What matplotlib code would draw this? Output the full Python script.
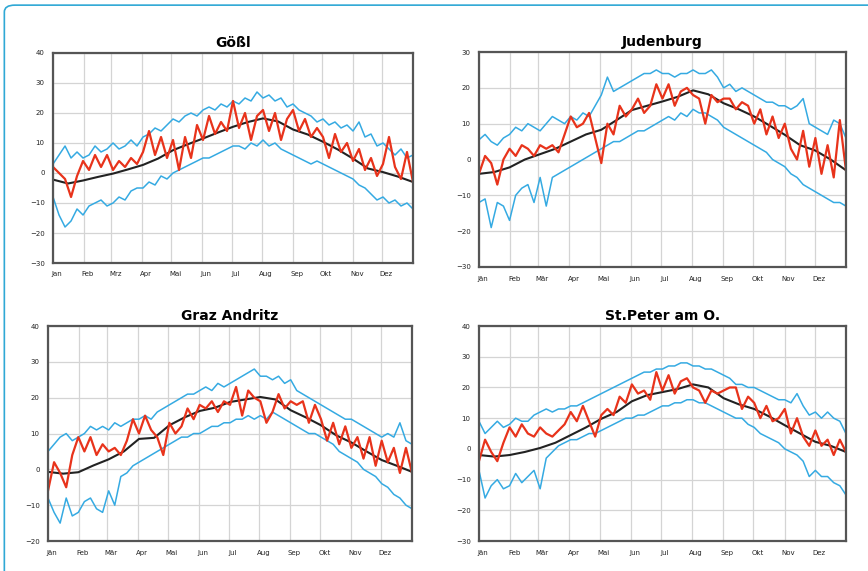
import numpy as np
import matplotlib
matplotlib.use('Agg')
import matplotlib.pyplot as plt
from matplotlib.patches import FancyBboxPatch

# daily temperature curves, one value every ~6 days
# (upper blue = max, lower blue = min, red = one year, black = long term mean)

stations = ['Gößl', 'Judenburg', 'Graz Andritz', 'St.Peter am O.']

months_1 = ['Jan', 'Feb', 'Mrz', 'Apr', 'Mai', 'Jun', 'Jul', 'Aug', 'Sep', 'Okt', 'Nov', 'Dez']
months_2 = ['Jän', 'Feb', 'Mär', 'Apr', 'Mai', 'Jun', 'Jul', 'Aug', 'Sep', 'Okt', 'Nov', 'Dez']
month_start = [0, 31, 59, 90, 120, 151, 181, 212, 243, 273, 304, 334, 365]

ylims = [(-30, 40), (-30, 30), (-20, 40), (-30, 40)]

goessl_max = [3, 6, 9, 5, 7, 5, 6, 9, 7, 8, 10, 8, 9, 11, 9, 12, 13, 15, 14, 16, 18, 17, 19, 20, 19, 21,
              22, 21, 23, 22, 24, 23, 25, 24, 27, 25, 26, 24, 25, 22, 23, 21, 20, 19, 17, 18, 16, 17, 15,
              16, 14, 17, 12, 13, 9, 10, 8, 6, 8, 5, 6]
goessl_min = [-8, -14, -18, -16, -12, -14, -11, -10, -9, -11, -10, -8, -9, -6, -5, -5, -3, -4, -1, -2, 0,
              1, 2, 3, 4, 5, 5, 6, 7, 8, 9, 9, 8, 10, 9, 11, 9, 10, 8, 7, 6, 5, 4, 3, 4, 3, 2, 1, 0, -1,
              -2, -4, -5, -7, -9, -8, -10, -9, -11, -10, -12]
goessl_year = [2, 0, -2, -8, -1, 4, 1, 6, 2, 6, 1, 4, 2, 5, 3, 7, 14, 6, 12, 5, 11, 1, 12, 5, 16, 11, 19,
               13, 17, 14, 24, 15, 20, 11, 19, 21, 14, 20, 11, 18, 21, 14, 18, 12, 15, 12, 5, 13, 7, 10,
               4, 8, 1, 5, -1, 3, 12, 2, -2, 7, -3]
goessl_mean = [-2.2, -3.5, -2.5, -1.3, -0.2, 1.2, 2.7, 4.8, 7.6, 9.6, 11.5, 13.5, 15.4, 17.0, 18.2,
               17.2, 14.5, 12.8, 10.4, 7.8, 4.8, 1.5, 0.3, -1.2, -3.0]

juden_max = [5.5, 7, 5, 4, 6, 7, 9, 8, 10, 9, 8, 10, 12, 11, 10, 12, 11, 13, 12, 15, 18, 23, 19, 20, 21,
             22, 23, 24, 24, 25, 24, 24, 23, 24, 24, 25, 24, 24, 25, 23, 20, 21, 19, 20, 19, 18, 17, 16,
             16, 15, 15, 14, 15, 17, 10, 9, 8, 7, 11, 10, 6]
juden_min = [-12, -11, -19, -12, -13, -17, -10, -8, -7, -12, -5, -13, -5, -4, -3, -2, -1, 0, 1, 2, 3, 4,
             5, 5, 6, 7, 8, 8, 9, 10, 11, 12, 11, 13, 12, 14, 13, 13, 12, 11, 9, 8, 7, 6, 5, 4, 3, 2, 0,
             -1, -2, -4, -5, -7, -8, -9, -10, -11, -12, -12, -13]
juden_year = [-4, 1, -1, -7, 0, 3, 1, 4, 3, 1, 4, 3, 4, 2, 7, 12, 9, 10, 13, 6, -1, 10, 7, 15, 12, 14, 17,
              13, 15, 21, 17, 21, 15, 19, 20, 18, 17, 10, 18, 16, 17, 17, 14, 16, 15, 10, 14, 7, 12, 6,
              10, 3, 0, 8, -2, 6, -4, 4, -5, 11, -3]
juden_mean = [-4, -3.5, -2.2, 0, 1.5, 3, 5, 7, 8.3, 11, 13.8, 15, 16.2, 17.5, 19.3, 18.2, 15.7, 14, 12,
              9.5, 6.9, 4, 2.5, 0, -3]

graz_max = [5, 7, 9, 10, 8, 9, 10, 12, 11, 12, 11, 13, 12, 13, 14, 14, 15, 14, 16, 17, 18, 19, 20, 21, 21,
            22, 23, 22, 24, 23, 24, 25, 26, 27, 28, 26, 26, 25, 26, 24, 25, 22, 21, 20, 19, 18, 17, 16,
            15, 14, 14, 13, 12, 11, 10, 9, 10, 9, 13, 8, 7]
graz_min = [-8, -12, -15, -8, -13, -12, -9, -8, -11, -12, -6, -10, -2, -1, 1, 2, 3, 4, 5, 6, 7, 8, 9, 9,
            10, 10, 11, 12, 12, 13, 13, 14, 14, 15, 14, 15, 14, 16, 15, 14, 13, 12, 11, 10, 10, 9, 8, 7,
            5, 4, 3, 2, 0, -1, -2, -4, -5, -7, -8, -10, -11]
graz_year = [-6, 2, -1, -5, 4, 9, 5, 9, 4, 7, 5, 6, 4, 8, 14, 10, 15, 11, 9, 4, 13, 10, 12, 17, 14, 18, 17,
             19, 16, 19, 18, 23, 15, 22, 20, 19, 13, 16, 21, 17, 19, 18, 19, 13, 18, 14, 8, 13, 7, 12, 6,
             9, 3, 9, 1, 8, 2, 6, -1, 6, -1]
graz_mean = [-0.7, -1.2, -0.8, 1.1, 2.8, 5, 8.5, 8.8, 12.3, 14.5, 16.3, 17.2, 18.8, 19.5, 20.2, 19.5,
             16.5, 14.5, 12.3, 9.5, 7.5, 5, 2.6, 1, -0.7]

peter_max = [9, 5, 7, 9, 7, 8, 10, 9, 9, 11, 12, 13, 12, 13, 13, 14, 14, 15, 16, 17, 18, 19, 20, 21, 22,
             23, 24, 25, 25, 26, 26, 27, 27, 28, 28, 27, 27, 26, 26, 25, 24, 23, 21, 21, 20, 20, 19, 18,
             17, 16, 16, 15, 18, 14, 11, 12, 10, 12, 10, 9, 5]
peter_min = [-7, -16, -12, -10, -13, -12, -8, -11, -9, -7, -13, -3, -1, 1, 2, 3, 3, 4, 5, 5, 6, 7, 8, 9,
             10, 10, 11, 11, 12, 13, 14, 14, 15, 15, 16, 16, 15, 15, 14, 13, 12, 11, 10, 10, 8, 7, 5, 4,
             3, 2, 0, -1, -2, -4, -9, -7, -9, -9, -11, -12, -15]
peter_year = [-4, 3, -1, -4, 2, 7, 4, 8, 5, 4, 7, 5, 4, 6, 8, 12, 9, 14, 9, 4, 11, 13, 11, 17, 15, 21, 18,
              19, 16, 25, 19, 24, 18, 22, 23, 20, 19, 15, 19, 18, 19, 20, 20, 13, 17, 15, 10, 14, 9, 10,
              13, 5, 10, 4, 1, 6, 1, 3, -2, 3, -1]
peter_mean = [-2, -2.5, -2, -1, 0.3, 2, 4.5, 7, 9.8, 12, 15.5, 17.5, 18.5, 19.5, 21, 20, 16.5, 14.5, 13,
              10.5, 7.7, 5, 2.3, 1, -1]

data = [
    (goessl_max, goessl_min, goessl_year, goessl_mean),
    (juden_max, juden_min, juden_year, juden_mean),
    (graz_max, graz_min, graz_year, graz_mean),
    (peter_max, peter_min, peter_year, peter_mean),
]
month_labels = [months_1, months_2, months_2, months_2]

# axes positions in figure coordinates (left, bottom, width, height)
positions = [
    [0.0611, 0.5394, 0.4147, 0.3678],
    [0.5518, 0.5324, 0.4228, 0.3765],
    [0.0553, 0.0525, 0.4194, 0.3765],
    [0.5518, 0.0525, 0.4228, 0.3765],
]

blue = '#35aae2'
red = '#e8331b'

fig = plt.figure(figsize=(8.68, 5.71), dpi=100)

# light blue frame, only its top and left edge are inside the picture
frame = FancyBboxPatch((0.005, -0.05), 1.05, 1.041, boxstyle='round,pad=0,rounding_size=0.012',
                       transform=fig.transFigure, facecolor='none', edgecolor='#2fa8d5', lw=1.2)
fig.patches.append(frame)

for k in range(4):
    tmax, tmin, tyear, tmean = data[k]
    ax = fig.add_axes(positions[k])

    x = np.linspace(0, 365, len(tmax))
    xm = np.linspace(0, 365, len(tmean))

    ax.plot(x, tmax, color=blue, lw=1.1)
    ax.plot(x, tmin, color=blue, lw=1.1)
    ax.plot(xm, tmean, color='#222222', lw=1.5)
    ax.plot(x, tyear, color=red, lw=1.6)

    lo, hi = ylims[k]
    ax.set_xlim(0, 365)
    ax.set_ylim(lo, hi)
    ax.set_yticks(np.arange(lo, hi + 1, 10))
    ax.set_xticks(month_start)
    ax.set_xticklabels([])
    ax.tick_params(length=0, labelsize=5, pad=6, colors='#222222')
    ax.grid(True, color='#d4d4d4', lw=0.9)
    ax.set_axisbelow(True)

    # month names beside each month start
    for m in range(12):
        ax.text(month_start[m] + 4, lo - (hi - lo) * 0.04, month_labels[k][m],
                fontsize=5, ha='center', va='top', color='#222222')

    for s in ax.spines.values():
        s.set_color('#555555')
        s.set_linewidth(1.6)

    ax.set_title(stations[k], fontsize=10, fontweight='bold', pad=4)

plt.savefig('out.png', dpi=100)
